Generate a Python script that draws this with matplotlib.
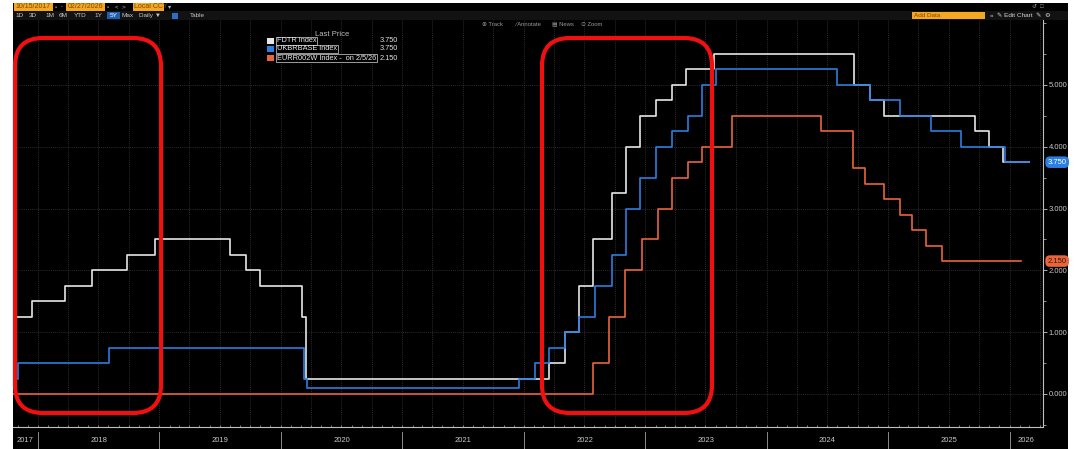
import matplotlib
matplotlib.use("Agg")
import matplotlib.pyplot as plt
import matplotlib.dates as mdates
import matplotlib.ticker as mticker
from matplotlib.patches import Rectangle, FancyBboxPatch
import matplotlib.transforms as mtransforms
import datetime as dt

plt.rcParams['font.family'] = ['Liberation Sans', 'DejaVu Sans']

# ---------------- data (step series) ----------------
fdtr_dates = ["2017-10-15", "2017-12-14", "2018-03-22", "2018-06-14", "2018-09-27",
              "2018-12-20", "2019-08-01", "2019-09-19", "2019-10-31", "2020-03-04",
              "2020-03-16", "2022-03-17", "2022-05-05", "2022-06-16", "2022-07-28",
              "2022-09-22", "2022-11-03", "2022-12-15", "2023-02-02", "2023-03-23",
              "2023-05-04", "2023-07-27", "2024-09-19", "2024-11-08", "2024-12-19",
              "2025-09-18", "2025-10-30", "2025-12-11", "2026-02-27"]
fdtr_values = [1.25, 1.50, 1.75, 2.00, 2.25, 2.50, 2.25, 2.00, 1.75, 1.25,
               0.25, 0.50, 1.00, 1.75, 2.50, 3.25, 4.00, 4.50, 4.75, 5.00,
               5.25, 5.50, 5.00, 4.75, 4.50, 4.25, 4.00, 3.75, 3.75]

boe_dates = ["2017-10-15", "2017-11-02", "2018-08-02", "2020-03-11", "2020-03-19",
             "2021-12-16", "2022-02-03", "2022-03-17", "2022-05-05", "2022-06-16",
             "2022-08-04", "2022-09-22", "2022-11-03", "2022-12-15", "2023-02-02",
             "2023-03-23", "2023-05-11", "2023-06-22", "2023-08-03", "2024-08-01",
             "2024-11-07", "2025-02-06", "2025-05-08", "2025-08-07", "2025-12-18",
             "2026-02-27"]
boe_values = [0.25, 0.50, 0.75, 0.25, 0.10, 0.25, 0.50, 0.75, 1.00, 1.25,
              1.75, 2.25, 3.00, 3.50, 4.00, 4.25, 4.50, 5.00, 5.25, 5.00,
              4.75, 4.50, 4.25, 4.00, 3.75, 3.75]

ecb_dates = ["2017-10-15", "2022-07-27", "2022-09-14", "2022-11-02", "2022-12-21",
             "2023-02-08", "2023-03-22", "2023-05-10", "2023-06-21", "2023-09-20",
             "2024-06-12", "2024-09-18", "2024-10-23", "2024-12-18", "2025-02-05",
             "2025-03-12", "2025-04-23", "2025-06-11", "2026-02-05"]
ecb_values = [0.00, 0.50, 1.25, 2.00, 2.50, 3.00, 3.50, 3.75, 4.00, 4.50,
              4.25, 3.65, 3.40, 3.15, 2.90, 2.65, 2.40, 2.15, 2.15]

series_names = ["FDTR Index", "UKBRBASE Index", "EURR002W Index -  on 2/5/26"]
last_values = ["3.750", "3.750", "2.150"]
series_colors = ["#e6e6e6", "#2b7fe0", "#e8643a"]
year_labels = ["2017", "2018", "2019", "2020", "2021", "2022", "2023", "2024", "2025", "2026"]
y_ticks = [0, 1, 2, 3, 4, 5]

# ---------------- figure ----------------
W, H = 1077, 449
fig = plt.figure(figsize=(W / 100, H / 100), dpi=100, facecolor="white")

def fx(px):
    return px / W

def fy(py):
    return 1 - py / H

# black terminal panel
fig.patches.append(Rectangle((fx(13), 0), fx(1068) - fx(13), fy(3), transform=fig.transFigure,
                             facecolor="black", edgecolor="none", zorder=-10))
# second toolbar row
fig.patches.append(Rectangle((fx(13), fy(20)), fx(1068) - fx(13), fy(11) - fy(20),
                             transform=fig.transFigure, facecolor="#121212", edgecolor="none", zorder=-9))

# plot axes
left, right, top, bottom = 13, 1043, 20, 427
ax = fig.add_axes([fx(left), fy(bottom), fx(right) - fx(left), fy(top) - fy(bottom)])
ax.set_zorder(1)
ax.set_facecolor("black")

def todate(lst):
    return [dt.datetime.strptime(s, "%Y-%m-%d") for s in lst]

all_dates = [todate(fdtr_dates), todate(boe_dates), todate(ecb_dates)]
all_vals = [fdtr_values, boe_values, ecb_values]
for d, v, c, z in zip(all_dates, all_vals, series_colors, [3, 4, 3.5]):
    ax.plot(d, v, drawstyle="steps-post", color=c, lw=1.2, zorder=z)

ax.set_xlim(dt.datetime(2017, 10, 18), dt.datetime(2026, 4, 11))
ax.set_ylim(-0.534, 6.05)

# grid
ax.xaxis.set_major_locator(mdates.MonthLocator(bymonth=[1, 4, 7, 10]))
ax.xaxis.set_minor_locator(mdates.MonthLocator())
ax.xaxis.set_major_formatter(mticker.NullFormatter())
ax.yaxis.set_major_locator(mticker.FixedLocator(y_ticks))
ax.yaxis.set_minor_locator(mticker.MultipleLocator(0.5))
ax.yaxis.set_major_formatter(mticker.FormatStrFormatter("%.3f"))
ax.grid(True, which="major", color="#3a3a3a", lw=0.6, ls=(0, (1, 1.5)))

ax.yaxis.tick_right()
ax.tick_params(axis="y", which="major", colors="#c8c8c8", labelsize=5.5, length=3, width=0.6, pad=1)
ax.tick_params(axis="y", which="minor", colors="#c8c8c8", length=2, width=0.5)
ax.tick_params(axis="x", which="both", colors="#b0b0b0", length=1.5, width=0.5, direction="in")
for s in ["top", "left"]:
    ax.spines[s].set_visible(False)
for s in ["right", "bottom"]:
    ax.spines[s].set_color("#c0c0c0")
    ax.spines[s].set_linewidth(0.8)

# year labels and separators below the axis
trans = mtransforms.blended_transform_factory(ax.transData, ax.transAxes)
x0, x1 = ax.get_xlim()
for lab in year_labels:
    yr = int(lab)
    a = max(mdates.date2num(dt.datetime(yr, 1, 1)), x0)
    b = min(mdates.date2num(dt.datetime(yr + 1, 1, 1)), x1)
    ax.text((a + b) / 2, -0.032, lab, transform=trans, ha="center", va="center",
            fontsize=5.5, color="#c8c8c8", clip_on=False)
    bd = mdates.date2num(dt.datetime(yr, 1, 1))
    if x0 < bd < x1:
        ax.plot([bd, bd], [-0.012, -0.052], transform=trans, color="#8a8a8a", lw=0.7, clip_on=False)

# value tags on right axis
tag_text_colors = ["white", "#3a1408"]
for val, txt, col, tc in zip([boe_values[-1], ecb_values[-1]], last_values[1:], series_colors[1:], tag_text_colors):
    ax.text(1.0045, val, txt, transform=mtransforms.blended_transform_factory(ax.transAxes, ax.transData),
            ha="left", va="center", fontsize=5.5, color=tc, clip_on=False, zorder=10,
            bbox=dict(boxstyle="round,pad=0.3,rounding_size=0.6", facecolor=col, edgecolor="none"))

# legend
fig.text(fx(332), fy(34), "Last Price", ha="center", va="center", fontsize=5.5, color="#bdbdbd")
rows_y = [41, 49, 58]
for ry, name, val, col in zip(rows_y, series_names, last_values, series_colors):
    fig.patches.append(Rectangle((fx(267), fy(ry + 3)), fx(7), 6 / H, transform=fig.transFigure,
                                 facecolor=col, edgecolor="none", zorder=5))
    fig.text(fx(277), fy(ry), name, ha="left", va="center", fontsize=5.3, color="#e8e8e8",
             bbox=dict(boxstyle="square,pad=0.1", facecolor="black", edgecolor="#d8d8d8", lw=0.5))
    fig.text(fx(398), fy(ry), val, ha="right", va="center", fontsize=5.3, color="#e0e0e0")

# red highlight boxes
for (l, r) in [(15, 161), (542, 712)]:
    fig.patches.append(FancyBboxPatch((fx(l), fy(413)), fx(r) - fx(l), fy(38) - fy(413),
                                      boxstyle="round,pad=0,rounding_size=0.026",
                                      transform=fig.transFigure, facecolor="none",
                                      edgecolor="#f01010", lw=3.0, zorder=20,
                                      mutation_aspect=W / H))

# header row 1
orange = "#f5a623"
def obox(x, y, w, h, txt, fs=5.0):
    fig.patches.append(Rectangle((fx(x), fy(y + h)), w / W, h / H, transform=fig.transFigure,
                                 facecolor=orange, edgecolor="none", zorder=5))
    fig.text(fx(x + 1.5), fy(y + h / 2), txt, ha="left", va="center", fontsize=fs,
             color="#7a4a00", zorder=6)

obox(14, 3, 39, 8, "10/15/2017")
obox(66, 3, 39, 8, "02/27/2026")
obox(133, 3, 31, 8, "Local CCY")
for x, t in [(56, "▫"), (62, "-"), (108, "▫"), (117, "<"), (123, ">"), (170, "▾")]:
    fig.text(fx(x), fy(7), t, ha="center", va="center", fontsize=4.5, color="#bbbbbb")

# header row 2
for x, t in [(20, "1D"), (33, "3D"), (50, "1M"), (63, "6M"), (80, "YTD"), (98, "1Y"),
             (128, "Max"), (150, "Daily ▼"), (197, "Table")]:
    fig.text(fx(x), fy(15.5), t, ha="center", va="center", fontsize=4.6, color="#c8c8c8")
fig.patches.append(Rectangle((fx(107), fy(19)), 13 / W, 7 / H, transform=fig.transFigure,
                             facecolor="#1f5fb0", edgecolor="none", zorder=5))
fig.text(fx(113.5), fy(15.5), "5Y", ha="center", va="center", fontsize=4.6, color="white", zorder=6)
fig.patches.append(Rectangle((fx(172), fy(19)), 6 / W, 6 / H, transform=fig.transFigure,
                             facecolor="#2a70c8", edgecolor="none", zorder=5))

# top right controls
fig.patches.append(Rectangle((fx(912), fy(19)), 73 / W, 7 / H, transform=fig.transFigure,
                             facecolor=orange, edgecolor="none", zorder=5))
fig.text(fx(914), fy(15.5), "Add Data", ha="left", va="center", fontsize=4.6, color="#7a4a00", zorder=6)
fig.text(fx(990), fy(15.5), "«  ✎ Edit Chart  ✎  ⚙", ha="left", va="center", fontsize=4.6, color="#d8d8d8")
fig.text(fx(1038), fy(6), "↺  □", ha="center", va="center", fontsize=4.2, color="#999999")

# annotation toolbar
for x, t in [(492, "⊕ Track"), (528, "∕ Annotate"), (563, "▤ News"), (592, "⊙ Zoom")]:
    fig.text(fx(x), fy(24), t, ha="center", va="center", fontsize=4.2, color="#9a9a9a")

fig.savefig("out.png", dpi=100, facecolor="white")
